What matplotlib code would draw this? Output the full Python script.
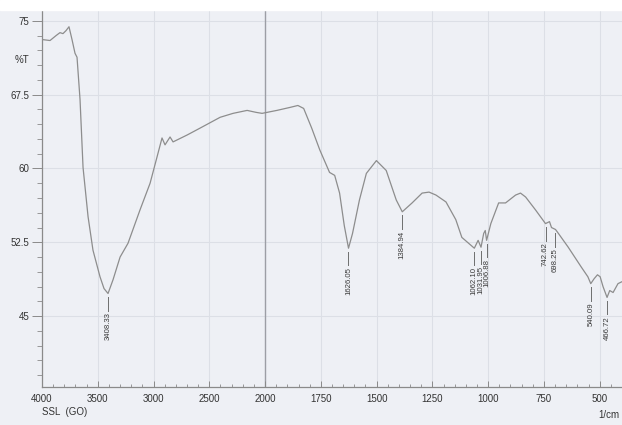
import numpy as np
import matplotlib
matplotlib.use("Agg")
import matplotlib.pyplot as plt
from matplotlib.ticker import FixedLocator, NullFormatter, FixedFormatter

# FTIR transmittance spectrum, SSL (GO)
wavenumber = [4000, 3928, 3874, 3839, 3812, 3785, 3758, 3731, 3704, 3686,
              3659, 3632, 3587, 3543, 3480, 3444, 3408, 3363, 3300, 3229,
              3121, 3031, 2968, 2924, 2897, 2852, 2825, 2699, 2583, 2403,
              2287, 2161, 2080, 2027, 1947, 1889, 1853, 1827, 1791, 1755,
              1711, 1688, 1666, 1645, 1626, 1608, 1577, 1546, 1501, 1457,
              1412, 1385, 1341, 1296, 1265, 1234, 1189, 1145, 1118, 1062,
              1045, 1032, 1020, 1013, 1007, 988, 953, 922, 877, 855,
              832, 788, 743, 725, 716, 698, 685, 641, 583, 553,
              540, 525, 510, 498, 485, 467, 455, 440, 418, 400]
transmittance = [73.1, 73.0, 73.5, 73.8, 73.7, 74.0, 74.4, 73.1, 71.7, 71.3,
                 67.0, 60.1, 55.1, 51.7, 49.0, 47.8, 47.3, 48.7, 51.0, 52.4,
                 55.8, 58.5, 61.2, 63.1, 62.4, 63.2, 62.7, 63.4, 64.1, 65.2,
                 65.6, 65.9, 65.7, 65.6, 65.9, 66.2, 66.4, 66.1, 64.1, 61.9,
                 59.6, 59.3, 57.5, 54.2, 51.9, 53.4, 56.8, 59.5, 60.8, 59.8,
                 56.8, 55.6, 56.5, 57.5, 57.6, 57.3, 56.6, 54.8, 53.0, 51.9,
                 52.7, 52.0, 53.4, 53.7, 52.7, 54.4, 56.5, 56.5, 57.3, 57.5,
                 57.1, 55.8, 54.4, 54.6, 54.0, 53.8, 53.4, 52.0, 50.0, 49.0,
                 48.3, 48.8, 49.2, 49.0, 48.0, 46.9, 47.6, 47.4, 48.3, 48.5]

peak_labels = ["3408.33", "1626.05", "1384.94", "1062.10", "1031.95",
               "1006.88", "742.62", "698.25", "540.09", "466.72"]
peak_positions = [float(s) for s in peak_labels]

x_major = [4000, 3500, 3000, 2500, 2000, 1750, 1500, 1250, 1000, 750, 500]
y_major = [45, 52.5, 60, 67.5, 75]

# Wavenumber axis: 2x expansion below 2000 1/cm
def fwd(x):
    x = np.asarray(x, dtype=float)
    return np.where(x >= 2000, x, 2 * x - 2000)

def inv(t):
    t = np.asarray(t, dtype=float)
    return np.where(t >= 2000, t, (t + 2000) / 2)

FONT = ["Liberation Sans Narrow", "Liberation Sans", "DejaVu Sans"]
plt.rcParams["font.family"] = FONT

paper = "#eef0f5"
fig = plt.figure(figsize=(6.22, 4.25), dpi=100, facecolor=paper)
fig.patches.append(plt.Rectangle((0, 1 - 10 / 425), 1, 10 / 425,
                                 transform=fig.transFigure, color="white",
                                 zorder=0))
ax = fig.add_axes([42 / 622, 1 - 387 / 425, 1 - 42 / 622, (387 - 10) / 425])
ax.set_facecolor(paper)
ax.set_xscale("function", functions=(fwd, inv))
ax.set_xlim(4000, 400)
ax.set_ylim(37.8, 76.1)

# faint chart-paper grid
for yv in y_major:
    ax.axhline(yv, color="#dcdfe6", lw=0.8, zorder=1)
for xv in x_major:
    if xv != 2000:
        ax.axvline(xv, color="#dcdfe6", lw=0.8, zorder=1)
ax.axvline(2000, color="#9c9ea5", lw=1.0, zorder=1)

ax.plot(wavenumber, transmittance, color="#8d8d8d", lw=0.9, zorder=3)

# peak markers
wn_sorted = np.array(wavenumber[::-1], dtype=float)
tr_sorted = np.array(transmittance[::-1], dtype=float)
for lab, pos in zip(peak_labels, peak_positions):
    t = np.interp(pos, wn_sorted, tr_sorted)
    top = t - 0.35
    bottom = top - 1.4
    ax.plot([pos, pos], [top, bottom], color="#6e6e6e", lw=0.7, zorder=3)
    ax.text(pos, bottom - 0.15, lab, rotation=90, ha="center", va="top",
            fontsize=5.6, color="#3a3a3a", zorder=4)

# axes styling
for s in ["top", "right"]:
    ax.spines[s].set_visible(False)
for s in ["left", "bottom"]:
    ax.spines[s].set_color("#8a8a8a")
    ax.spines[s].set_linewidth(0.9)

ax.xaxis.set_major_locator(FixedLocator(x_major))
ax.xaxis.set_major_formatter(FixedFormatter([str(v) for v in x_major]))
x_minor = [v for v in range(2100, 4000, 100) if v % 500 != 0] + \
          [v for v in range(450, 2000, 50) if v % 250 != 0]
ax.xaxis.set_minor_locator(FixedLocator(x_minor))
ax.xaxis.set_minor_formatter(NullFormatter())

ax.yaxis.set_major_locator(FixedLocator(y_major))
ax.yaxis.set_major_formatter(FixedFormatter(["45", "52.5", "60", "67.5", "75"]))
y_minor = [v for v in np.arange(39, 76, 1.5) if not any(abs(v - m) < 1e-6 for m in y_major)]
ax.yaxis.set_minor_locator(FixedLocator(y_minor))

ax.tick_params(axis="x", which="major", direction="in", length=4, width=0.7,
               color="#8a8a8a", labelsize=7, labelcolor="#333333", pad=5)
ax.tick_params(axis="x", which="minor", direction="in", length=2.5, width=0.6,
               color="#8a8a8a")
ax.tick_params(axis="y", which="major", direction="out", length=7, width=0.7,
               color="#8a8a8a", labelsize=7, labelcolor="#333333", pad=2)
ax.tick_params(axis="y", which="minor", direction="out", length=3.5, width=0.6,
               color="#8a8a8a")

fig.text(22 / 622, 1 - 60 / 425, "%T", ha="center", va="center",
         fontsize=7, color="#333333")
fig.text(42 / 622, 1 - 412 / 425, "SSL  (GO)", ha="left", va="center",
         fontsize=7, color="#333333")
fig.text(619 / 622, 1 - 415 / 425, "1/cm", ha="right", va="center",
         fontsize=7, color="#333333")

fig.savefig("out.png", dpi=100, facecolor=paper)
